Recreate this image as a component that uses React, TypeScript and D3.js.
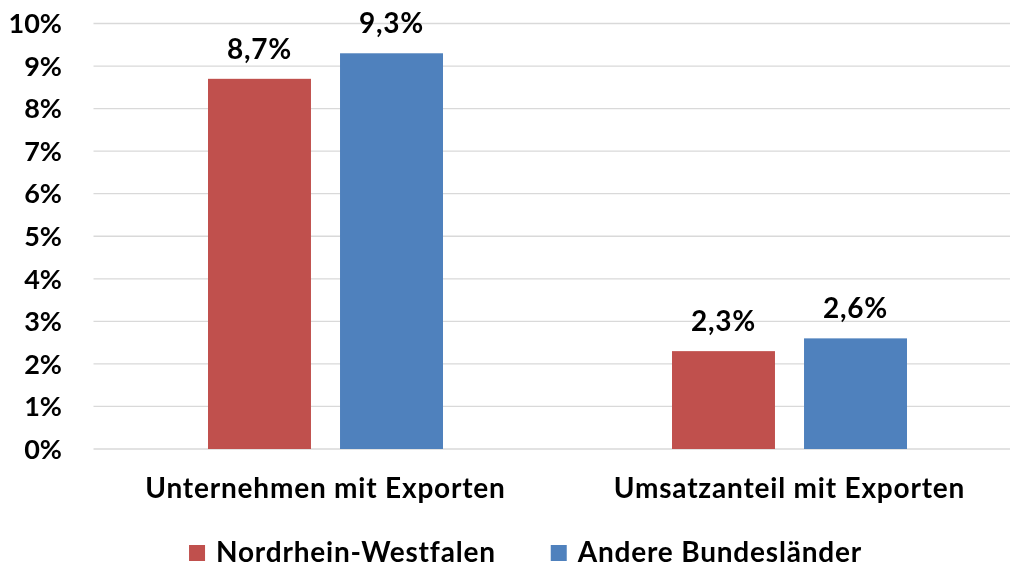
import React, { useEffect, useRef } from 'react';
import * as d3 from 'd3';

const categories = ['Unternehmen mit Exporten', 'Umsatzanteil mit Exporten'];
const seriesNames = ['Nordrhein-Westfalen', 'Andere Bundesländer'];
const seriesColors = ['#C0504D', '#4F81BD'];
const nrwValues = [8.7, 2.3];
const otherValues = [9.3, 2.6];
const yTicks = [0, 1, 2, 3, 4, 5, 6, 7, 8, 9, 10];

const FONT = 'Lato, "Open Sans", sans-serif';

const App = () => {
    const svgRef = useRef<SVGSVGElement>(null);

    useEffect(() => {
        if (!svgRef.current) return;
        document.documentElement.style.overflow = 'hidden';
        document.body.style.overflow = 'hidden';
        const width = 1010;
        const height = 570;

        const svg = d3.select(svgRef.current);
        svg.selectAll('*').remove();
        svg.attr('width', width).attr('height', height);

        const left = 93.5;
        const right = 1021.5;
        const top = 23.5;
        const bottom = 449;

        const x0 = d3.scaleBand<string>()
            .domain(categories)
            .range([left, right])
            .paddingInner(0)
            .paddingOuter(0);

        const x1 = d3.scaleBand<string>()
            .domain(seriesNames)
            .range([0, 235])
            .paddingInner(0.22)
            .paddingOuter(0);

        const y = d3.scaleLinear().domain([0, 10]).range([bottom, top]);

        // grid
        svg.append('g')
            .selectAll('line')
            .data(yTicks)
            .enter()
            .append('line')
            .attr('x1', left)
            .attr('x2', right)
            .attr('y1', d => y(d))
            .attr('y2', d => y(d))
            .attr('stroke', '#d9d9d9')
            .attr('stroke-width', 1.3);

        // y tick labels
        svg.append('g')
            .selectAll('text')
            .data(yTicks)
            .enter()
            .append('text')
            .attr('x', 62)
            .attr('y', d => y(d))
            .attr('dy', '0.36em')
            .attr('text-anchor', 'end')
            .style('font-family', FONT)
            .style('font-weight', 'bold')
            .style('font-size', '27px')
            .attr('fill', '#000')
            .text(d => `${d}%`);

        const seriesData = [nrwValues, otherValues];

        categories.forEach((cat, ci) => {
            const g = svg.append('g')
                .attr('transform', `translate(${x0(cat)! + (x0.bandwidth() - 235) / 2}, 0)`);
            seriesNames.forEach((s, si) => {
                const v = seriesData[si][ci];
                g.append('rect')
                    .attr('x', x1(s)!)
                    .attr('y', y(v))
                    .attr('width', x1.bandwidth())
                    .attr('height', bottom - y(v))
                    .attr('fill', seriesColors[si]);
                g.append('text')
                    .attr('x', x1(s)! + x1.bandwidth() / 2)
                    .attr('y', y(v) - 20)
                    .attr('text-anchor', 'middle')
                    .style('font-family', FONT)
                    .style('font-weight', 'bold')
                    .style('font-size', '28px')
                    .style('letter-spacing', '0.8px')
                    .attr('fill', '#000')
                    .text(`${v.toFixed(1).replace('.', ',')}%`);
            });
            svg.append('text')
                .attr('x', x0(cat)! + x0.bandwidth() / 2)
                .attr('y', 498)
                .attr('text-anchor', 'middle')
                .style('font-family', FONT)
                .style('font-weight', 'bold')
                .style('font-size', '28px')
                .style('letter-spacing', '0.8px')
                .attr('fill', '#000')
                .text(cat);
        });

        // legend
        const legend = svg.append('g');
        const items = seriesNames.map((name, i) => {
            const item = legend.append('g');
            item.append('rect')
                .attr('x', 0)
                .attr('y', -17)
                .attr('width', 16)
                .attr('height', 16)
                .attr('fill', seriesColors[i]);
            const t = item.append('text')
                .attr('x', 27)
                .attr('y', 0)
                .style('font-family', FONT)
                .style('font-weight', 'bold')
                .style('font-size', '28px')
                .style('letter-spacing', '0.8px')
                .attr('fill', '#000')
                .text(name);
            const w = (t.node() as SVGTextElement).getComputedTextLength();
            return { item, w: 27 + w };
        });
        const gap = 55;
        const total = items.reduce((a, b) => a + b.w, 0) + gap;
        let cx = 525.5 - total / 2;
        items.forEach(({ item, w }) => {
            item.attr('transform', `translate(${cx}, 562)`);
            cx += w + gap;
        });
    }, []);

    return (
        <div style={{ position: 'fixed', left: 0, top: 0, width: 1010, height: 570, overflow: 'hidden' }}>
            <svg ref={svgRef} style={{ display: 'block' }}></svg>
        </div>
    );
};

export default App;
